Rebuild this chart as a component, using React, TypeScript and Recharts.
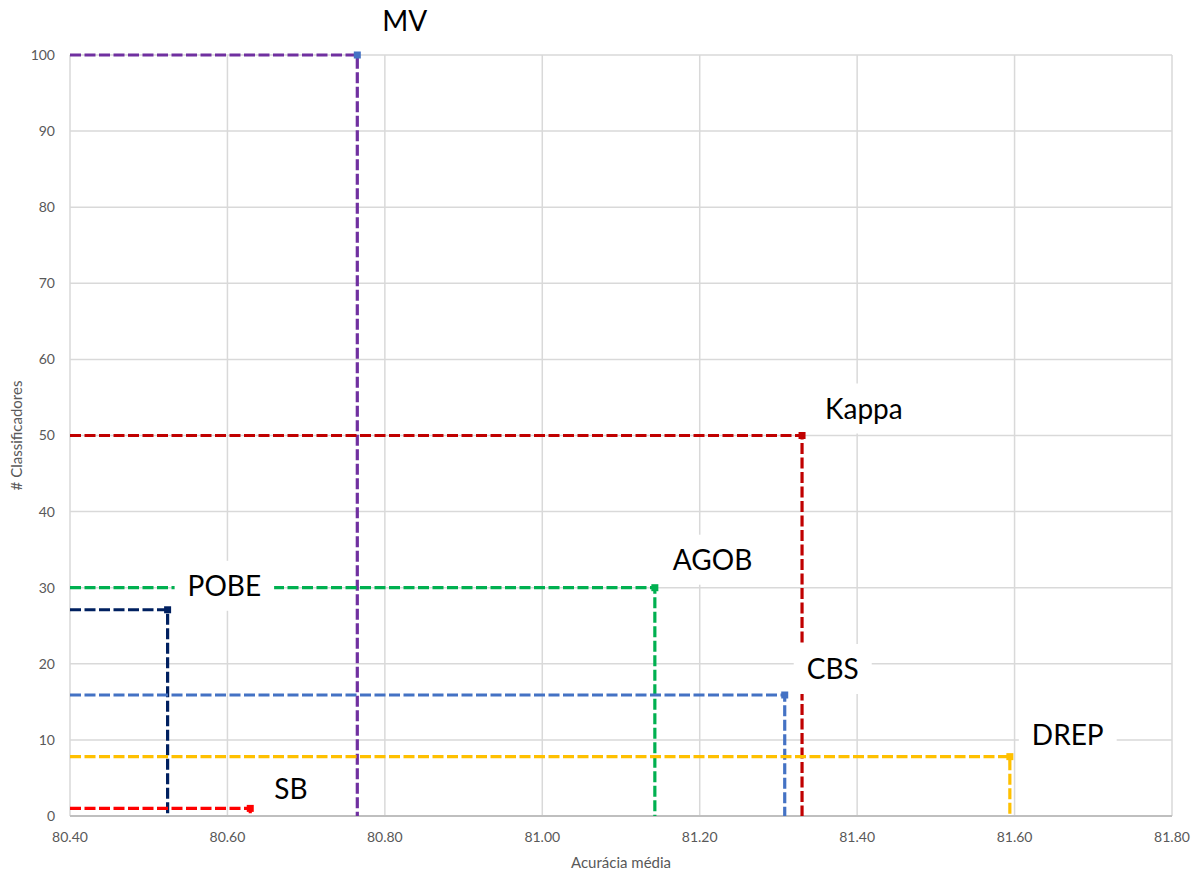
import { ScatterChart, Scatter, XAxis, YAxis, CartesianGrid } from 'recharts';

// ensemble pruning methods: mean accuracy vs. number of classifiers kept
const methods = ['MV', 'Kappa', 'AGOB', 'POBE', 'CBS', 'DREP', 'SB'];
const accuracy = [80.765, 81.33, 81.143, 80.524, 81.308, 81.594, 80.629];
const classifiers = [100, 50, 30, 27.1, 15.9, 7.8, 1];

const xTicks = [80.4, 80.6, 80.8, 81.0, 81.2, 81.4, 81.6, 81.8];
const yTicks = [0, 10, 20, 30, 40, 50, 60, 70, 80, 90, 100];

const lineColors: Record<string, string> = {
  MV: '#7030A0',
  Kappa: '#C00000',
  AGOB: '#00B050',
  POBE: '#002060',
  CBS: '#4472C4',
  DREP: '#FFC000',
  SB: '#FF0000',
};

// Excel left the MV marker in its default blue
const markerColors: Record<string, string> = { ...lineColors, MV: '#4472C4' };

// label offsets from the point (text left edge, text middle)
const labelNudge: Record<string, [number, number]> = {
  MV: [25, -34],
  Kappa: [23, -27],
  AGOB: [18, -28],
  POBE: [20, -24],
  CBS: [22, -26],
  DREP: [22, -22],
  SB: [24, -19],
};

const FONT = 'Lato, "Open Sans", sans-serif';
const LABEL_SIZE = 28;
const TICK_COLOR = '#595959';

const xMin = xTicks[0];

// each method is drawn as an L: from the y axis over to the point, then down to the x axis
const seriesData = methods.map((name, i) => ({
  name,
  points: [
    { x: xMin, y: classifiers[i] },
    { x: accuracy[i], y: classifiers[i], marker: true },
    { x: accuracy[i], y: 0 },
  ],
}));

const labelPoints = methods.map((name, i) => ({ x: accuracy[i], y: classifiers[i], name }));

let ctx: CanvasRenderingContext2D | null = null;
const measure = (text: string) => {
  if (!ctx) ctx = document.createElement('canvas').getContext('2d');
  if (!ctx) return text.length * LABEL_SIZE * 0.6;
  ctx.font = `${LABEL_SIZE}px Lato`;
  return ctx.measureText(text).width;
};

const markerShape = (color: string) => (props: any) => {
  if (!props.payload?.marker) return <g />;
  return <rect x={props.cx - 3.5} y={props.cy - 3.5} width={7} height={7} fill={color} />;
};

const renderLabel = (props: any) => {
  const { cx, cy, payload } = props;
  const [dx, dy] = labelNudge[payload.name] || [20, -25];
  const w = measure(payload.name);
  const left = cx + dx;
  const mid = cy + dy;
  return (
    <g>
      <rect x={left - 13} y={mid - 25} width={w + 26} height={50} fill="#ffffff" />
      <text x={left} y={mid + LABEL_SIZE * 0.36} fontSize={LABEL_SIZE} fontFamily={FONT} fill="#000000">
        {payload.name}
      </text>
    </g>
  );
};

export default function App() {
  return (
    <div style={{ position: 'absolute', left: 0, top: 0, width: 1200, height: 874, background: '#ffffff' }}>
      <ScatterChart width={1200} height={874} margin={{ top: 55, right: 28, bottom: 2, left: 10 }}>
        <CartesianGrid stroke="#d9d9d9" strokeWidth={1.5} />
        <XAxis
          type="number"
          dataKey="x"
          domain={[80.4, 81.8]}
          ticks={xTicks}
          tickFormatter={(v: number) => v.toFixed(2)}
          tick={{ fill: TICK_COLOR, fontSize: 14, fontFamily: FONT }}
          tickLine={false}
          tickSize={0}
          tickMargin={16}
          axisLine={{ stroke: '#bfbfbf', strokeWidth: 2 }}
          height={56}
          label={{
            value: 'Acurácia média',
            position: 'insideBottom',
            offset: 4,
            fill: TICK_COLOR,
            fontSize: 15,
            fontFamily: FONT,
          }}
        />
        <YAxis
          type="number"
          dataKey="y"
          domain={[0, 100]}
          ticks={yTicks}
          tick={{ fill: TICK_COLOR, fontSize: 14, fontFamily: FONT }}
          tickLine={false}
          tickSize={0}
          tickMargin={15}
          axisLine={false}
          width={60}
          label={{
            value: '# Classificadores',
            angle: -90,
            position: 'insideLeft',
            offset: 7,
            fill: TICK_COLOR,
            fontSize: 15,
            fontFamily: FONT,
            style: { textAnchor: 'middle' },
          }}
        />
        {seriesData.map((s) => (
          <Scatter
            key={s.name}
            name={s.name}
            data={s.points}
            fill={lineColors[s.name]}
            strokeWidth={3.2}
            line={{ stroke: lineColors[s.name], strokeWidth: 3.2, strokeDasharray: '11 3.5' }}
            lineType="joint"
            shape={markerShape(markerColors[s.name])}
            isAnimationActive={false}
          />
        ))}
        <Scatter data={labelPoints} shape={renderLabel} isAnimationActive={false} />
      </ScatterChart>
    </div>
  );
}
